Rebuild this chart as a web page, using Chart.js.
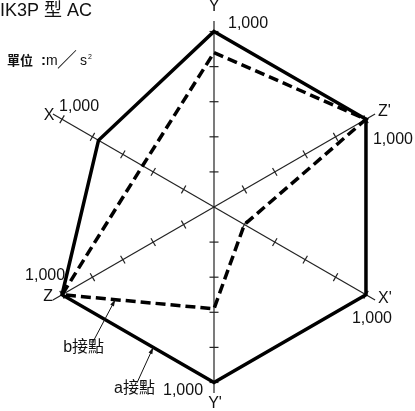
<!DOCTYPE html>
<html><head><meta charset="utf-8">
<script src="https://cdn.jsdelivr.net/npm/chart.js@4/dist/chart.umd.min.js"></script>
<style>html,body{margin:0;padding:0;background:#fff;overflow:hidden}canvas{display:block}</style>
</head><body>
<canvas id="c" width="415" height="411"></canvas>
<script>
// ---- data ----
const axisLabels = ['Y', "Z'", "X'", "Y'", 'Z', 'X'];
const contactA = [1000, 1000, 1000, 1000, 1000, 760];   // a接點 (solid)
const contactB = [880, 1000, 200, 580, 1000, 470];      // b接點 (dashed)
const tickValues = [200, 400, 600, 800, 1000];
const endLabel = '1,000';
const titleText = 'IK3P 型 AC';
const seriesNames = ['a接點', 'b接點'];

// ---- label placement (offsets from each axis' 1,000 point) ----
const axisLabelOffsets = [[0,-25,'center'],[12,-8,'left'],[12,4,'left'],[1,21,'center'],[-14,2,'center'],[-13,-4,'center']];
const endLabelOffsets  = [[14,-8,'left'],[7,20,'left'],[-14,24,'left'],[-51,8,'left'],[-37,-19,'left'],[-3,-13,'left']];

const FONT = '"Liberation Sans", Arial, "Noto Sans CJK TC", sans-serif';
const CJK = '"Liberation Sans", "Noto Sans CJK TC", sans-serif';

const decor = {
  id: 'decor',
  beforeDatasetsDraw(chart) {
    const s = chart.scales.r, ctx = chart.ctx;
    ctx.save();
    ctx.strokeStyle = '#222'; ctx.lineWidth = 1.2;
    for (let i = 0; i < axisLabels.length; i++) {
      const ang = s.getIndexAngle(i) - Math.PI / 2;
      const px = -Math.sin(ang), py = Math.cos(ang);
      tickValues.forEach(v => {
        const p = s.getPointPosition(i, s.getDistanceFromCenterForValue(v));
        ctx.beginPath();
        ctx.moveTo(p.x - px * 4.5, p.y - py * 4.5);
        ctx.lineTo(p.x + px * 4.5, p.y + py * 4.5);
        ctx.stroke();
      });
    }
    ctx.restore();
  },
  afterDraw(chart) {
    const s = chart.scales.r, ctx = chart.ctx;
    ctx.save();
    ctx.fillStyle = '#111';
    ctx.textBaseline = 'middle';
    for (let i = 0; i < axisLabels.length; i++) {
      const p = s.getPointPosition(i, s.getDistanceFromCenterForValue(1000));
      const o = axisLabelOffsets[i];
      ctx.font = '16px ' + FONT; ctx.textAlign = o[2];
      ctx.fillText(axisLabels[i], p.x + o[0], p.y + o[1]);
      const e = endLabelOffsets[i];
      ctx.font = '16px ' + FONT; ctx.textAlign = e[2];
      ctx.fillText(endLabel, p.x + e[0], p.y + e[1]);
    }
    // title & unit
    ctx.textAlign = 'left'; ctx.textBaseline = 'alphabetic';
    ctx.font = '18px ' + CJK;
    ctx.fillText(titleText, 0, 16);
    ctx.font = 'bold 13px "Noto Sans CJK TC", sans-serif';
    ctx.fillText('單位', 7, 65);
    ctx.font = 'bold 15px ' + FONT;
    ctx.fillText(':', 41, 65);
    ctx.font = '14px ' + FONT;
    ctx.fillText('m', 46, 65);
    ctx.font = '20px "Noto Sans CJK TC", sans-serif';
    ctx.fillText('／', 57, 67);
    ctx.font = '14px ' + FONT;
    ctx.fillText('s', 80, 65);
    ctx.font = '7px ' + FONT;
    ctx.fillText('2', 88, 59);

    // series callouts
    const pA1 = s.getPointPosition(4, s.getDistanceFromCenterForValue(contactA[4]));
    const pA2 = s.getPointPosition(3, s.getDistanceFromCenterForValue(contactA[3]));
    const pB1 = s.getPointPosition(4, s.getDistanceFromCenterForValue(contactB[4]));
    const pB2 = s.getPointPosition(3, s.getDistanceFromCenterForValue(contactB[3]));
    const tA = {x: pA1.x + (pA2.x - pA1.x) * 0.6, y: pA1.y + (pA2.y - pA1.y) * 0.6};
    const tB = {x: pB1.x + (pB2.x - pB1.x) * 0.35, y: pB1.y + (pB2.y - pB1.y) * 0.35};
    function arrow(fx, fy, t) {
      ctx.strokeStyle = '#111'; ctx.lineWidth = 1;
      ctx.beginPath(); ctx.moveTo(fx, fy); ctx.lineTo(t.x, t.y); ctx.stroke();
      const a = Math.atan2(t.y - fy, t.x - fx);
      ctx.beginPath();
      ctx.moveTo(t.x, t.y);
      ctx.lineTo(t.x - 7 * Math.cos(a - 0.3), t.y - 7 * Math.sin(a - 0.3));
      ctx.lineTo(t.x - 7 * Math.cos(a + 0.3), t.y - 7 * Math.sin(a + 0.3));
      ctx.closePath(); ctx.fill();
    }
    arrow(pA1.x + 75, pA1.y + 88, tA);
    arrow(pB1.x + 31, pB1.y + 47, tB);
    ctx.font = '16px ' + CJK; ctx.textBaseline = 'middle';
    ctx.textAlign = 'right';
    ctx.fillText(seriesNames[1], pB1.x + 42, pB1.y + 53);
    ctx.textAlign = 'left';
    ctx.fillText(seriesNames[0], pA1.x + 52, pA1.y + 94);
    ctx.restore();
  }
};

new Chart(document.getElementById('c'), {
  type: 'radar',
  data: {
    labels: axisLabels,
    datasets: [
      { label: seriesNames[0], data: contactA, borderColor: '#000', borderWidth: 3.5,
        borderJoinStyle: 'miter', fill: false, pointRadius: 0, tension: 0 },
      { label: seriesNames[1], data: contactB, borderColor: '#000', borderWidth: 3.5,
        borderDash: [10, 5], borderJoinStyle: 'miter', fill: false, pointRadius: 0, tension: 0 }
    ]
  },
  options: {
    responsive: false, animation: false,
    layout: { padding: { left: 28, top: 21, right: 15, bottom: 18 } },
    plugins: { legend: { display: false }, tooltip: { enabled: false }, title: { display: false } },
    scales: {
      r: {
        min: 0, max: 1060, startAngle: 0,
        ticks: { display: false, stepSize: 200 },
        grid: { display: false },
        pointLabels: { display: false },
        angleLines: { display: true, color: '#222', lineWidth: 1.2 }
      }
    }
  },
  plugins: [decor]
});
</script>
</body></html>
